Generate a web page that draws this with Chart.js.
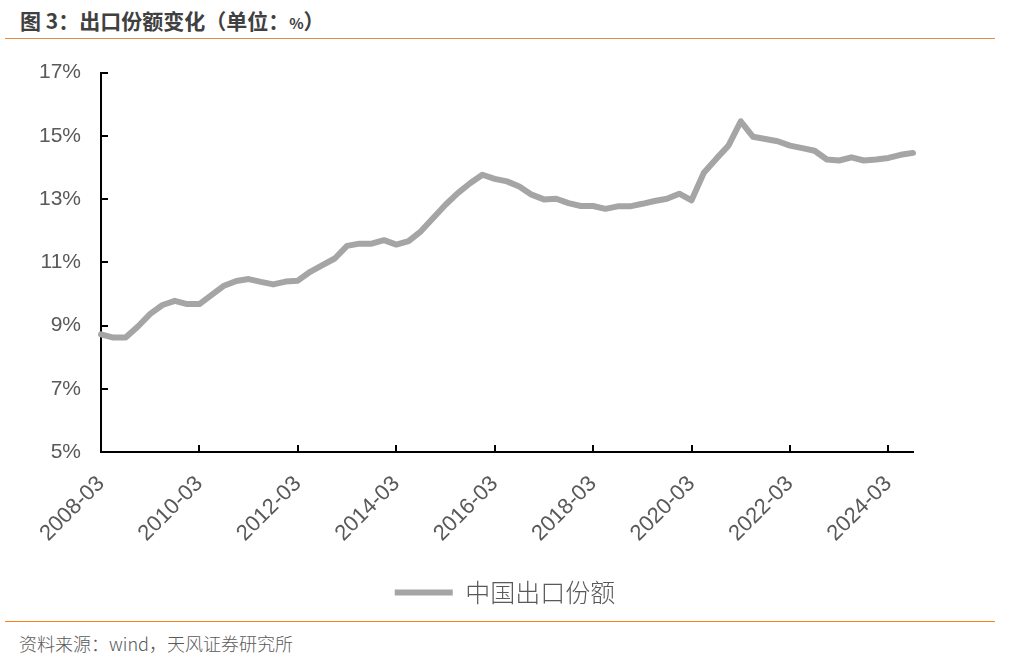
<!DOCTYPE html>
<html>
<head>
<meta charset="utf-8">
<script src="https://cdn.jsdelivr.net/npm/chart.js@4/dist/chart.umd.min.js"></script>
<style>
  body { margin: 0; background: #fff; width: 1010px; height: 670px; position: relative; overflow: hidden; font-family: "Noto Sans CJK SC", "Liberation Sans", sans-serif; }
  #title { position: absolute; left: 20px; top: 5px; font-size: 21px; font-weight: bold; color: #404040; }
  #title .pct { font-size: 15px; }
  #topLine { position: absolute; left: 5px; right: 15px; top: 38px; height: 1px; background: #E38A44; }
  #bottomLine { position: absolute; left: 5px; right: 15px; top: 621px; height: 1px; background: #FF8214; }
  #source { position: absolute; left: 19px; top: 630px; font-size: 18px; font-weight: 300; color: #595959; }
  #wrap { position: absolute; left: 0; top: 40px; width: 1010px; height: 580px; }
</style>
</head>
<body>
<div id="title">图 3：出口份额变化（单位：<span class="pct">%</span>）</div>
<div id="topLine"></div>
<div id="wrap"><canvas id="chart"></canvas></div>
<div id="bottomLine"></div>
<div id="source">资料来源：wind，天风证券研究所</div>
<script>
// quarters 2008-03 .. 2024-09
const years = [2008, 2009, 2010, 2011, 2012, 2013, 2014, 2015, 2016, 2017, 2018, 2019, 2020, 2021, 2022, 2023, 2024];
const months = ['03', '06', '09', '12'];
const labels = [];
years.forEach(y => months.forEach(m => labels.push(y + '-' + m)));
labels.length = 67;

// 中国出口份额 (%)
const exportShare = [
  8.72, 8.62, 8.62, 8.97, 9.37, 9.65, 9.78, 9.68, 9.68, 9.97,
  10.26, 10.41, 10.47, 10.38, 10.30, 10.39, 10.42, 10.70, 10.91, 11.12,
  11.52, 11.59, 11.59, 11.70, 11.56, 11.67, 11.98, 12.40, 12.82, 13.19,
  13.50, 13.77, 13.64, 13.56, 13.40, 13.14, 12.99, 13.01, 12.87, 12.78,
  12.78, 12.69, 12.77, 12.77, 12.85, 12.94, 13.01, 13.17, 12.96, 13.83,
  14.27, 14.69, 15.46, 14.97, 14.90, 14.83, 14.69, 14.61, 14.53, 14.25,
  14.22, 14.32, 14.22, 14.25, 14.30, 14.40, 14.46
];

const yTicks = [5, 7, 9, 11, 13, 15, 17];
const labelStep = 8;

// inward tick marks on both axes
const innerTicks = {
  id: 'innerTicks',
  afterDraw(chart) {
    const ctx = chart.ctx;
    const x = chart.scales.x, y = chart.scales.y;
    ctx.save();
    ctx.strokeStyle = '#000';
    ctx.lineWidth = 2;
    ctx.beginPath();
    yTicks.forEach(v => {
      const py = Math.round(y.getPixelForValue(v));
      ctx.moveTo(x.left, py);
      ctx.lineTo(x.left + 7, py);
    });
    for (let i = 0; i < labels.length; i += labelStep) {
      const px = Math.round(x.getPixelForValue(i));
      ctx.moveTo(px, y.bottom);
      ctx.lineTo(px, y.bottom - 7);
    }
    ctx.stroke();
    ctx.restore();
  }
};

new Chart(document.getElementById('chart').getContext('2d'), {
  type: 'line',
  data: {
    labels,
    datasets: [{
      label: '中国出口份额',
      data: exportShare,
      borderColor: '#A5A5A5',
      backgroundColor: '#A5A5A5',
      borderWidth: 6,
      borderCapStyle: 'round',
      borderJoinStyle: 'round',
      pointRadius: 0,
      tension: 0
    }]
  },
  options: {
    responsive: true,
    maintainAspectRatio: false,
    animation: false,
    layout: { padding: { top: 30, right: 0, bottom: 5, left: 0 } },
    plugins: {
      legend: {
        position: 'bottom',
        labels: {
          usePointStyle: true,
          pointStyle: 'line',
          pointStyleWidth: 58,
          color: '#595959',
          padding: 10,
          font: { family: '"Noto Sans CJK SC"', size: 25, weight: 300 }
        }
      },
      tooltip: { enabled: false }
    },
    scales: {
      x: {
        offset: false,
        grid: { display: false, drawTicks: false },
        border: { display: true, color: '#000', width: 2 },
        afterFit: s => { s.height = 118; },
        ticks: {
          autoSkip: false,
          maxRotation: 45,
          minRotation: 45,
          padding: 19,
          color: '#595959',
          font: { family: '"Liberation Sans"', size: 22 },
          callback: function (v, i) { return i % labelStep === 0 ? labels[i] : null; }
        }
      },
      y: {
        min: 5,
        max: 17,
        grid: { display: false, drawTicks: false },
        border: { display: true, color: '#000', width: 2 },
        afterFit: s => { s.width = 101; },
        ticks: {
          stepSize: 2,
          padding: 20,
          color: '#595959',
          font: { family: '"Liberation Sans"', size: 21 },
          callback: v => v + '%'
        }
      },
      // empty right-hand spacer so the legend centres on the full width
      yRight: {
        position: 'right',
        display: true,
        min: 5,
        max: 17,
        grid: { display: false, drawTicks: false },
        border: { display: false },
        ticks: { display: false },
        afterFit: s => { s.width = 97; }
      }
    }
  },
  plugins: [innerTicks]
});
</script>
</body>
</html>
